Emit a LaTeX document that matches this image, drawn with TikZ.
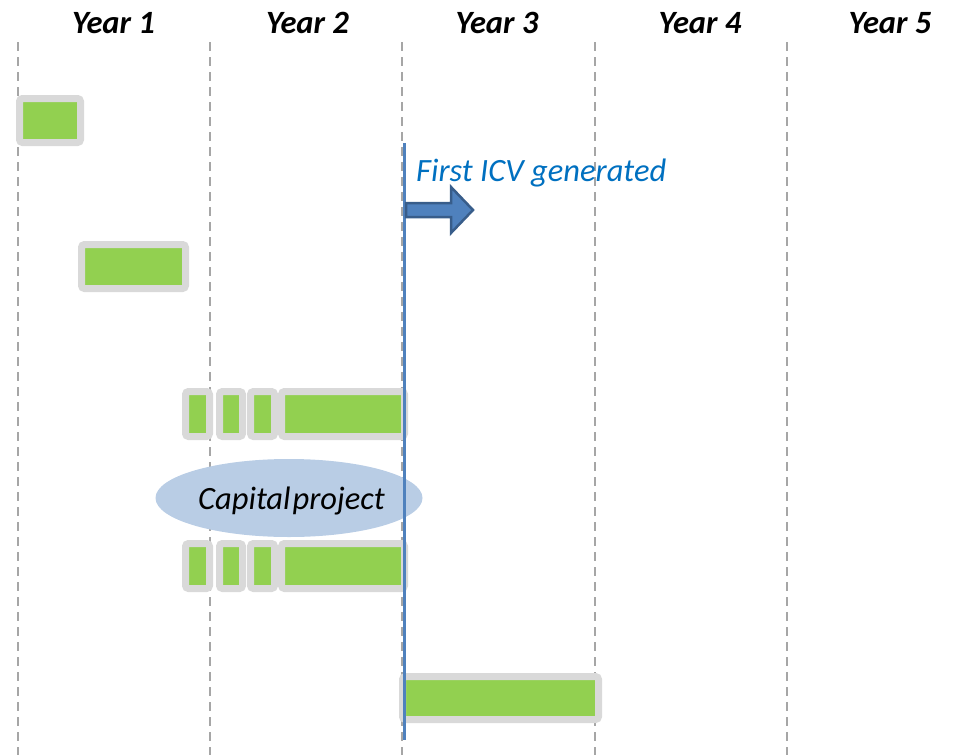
\documentclass[tikz,border=0pt]{standalone}
\usepackage{fontspec}
\setmainfont{Carlito}
\usetikzlibrary{shapes.geometric}
\definecolor{grn}{HTML}{92D050}
\definecolor{brd}{HTML}{D9D9D9}
\definecolor{dsh}{HTML}{A6A6A6}
\definecolor{bl}{HTML}{4F81BD}
\definecolor{dbl}{HTML}{385D8A}
\definecolor{ell}{HTML}{B9CDE5}
\definecolor{txtbl}{HTML}{0070C0}
\tikzset{
  bar/.style={rectangle, draw=brd, line width=7pt, fill=grn, rounded corners=3pt, inner sep=0pt},
  yearlbl/.style={font=\fontsize{32.5}{36}\selectfont\bfseries\itshape, inner sep=0pt, anchor=base},
  grid/.style={draw=dsh, line width=1.8pt, dash pattern=on 9pt off 6pt},
}
\begin{document}
\begin{tikzpicture}[x=1pt,y=-1pt]
\useasboundingbox (0,0) rectangle (970,755);
% year labels
\foreach \i/\xl/\xg in {1/113.5/18, 2/307.5/210, 3/497/402, 4/700/595, 5/890/787}{
  \node[yearlbl] (y\i) at (\xl,33) {Year \i};
  \coordinate (gt\i) at (\xg,42);
  \coordinate (gb\i) at (\xg,755);
  \draw[grid] (gt\i) -- (gb\i);
}
% bars
\node[bar, minimum width=61pt, minimum height=44pt] (b1) at (50,120.5) {};
\node[bar, minimum width=104pt, minimum height=44pt] (b2) at (133.5,266.5) {};
\foreach \r/\yy in {a/414, b/566}{
  \node[bar, minimum width=24pt, minimum height=45pt] (\r1) at (197.5,\yy) {};
  \node[bar, minimum width=23pt, minimum height=45pt] (\r2) at (231,\yy) {};
  \node[bar, minimum width=24pt, minimum height=45pt] (\r3) at (262.5,\yy) {};
  \node[bar, minimum width=123pt, minimum height=45pt] (\r4) at (343,\yy) {};
}
\node[bar, minimum width=196pt, minimum height=43pt] (b6) at (500.5,698) {};
% ellipse
\node[ellipse, fill=ell, minimum width=267pt, minimum height=78pt, inner sep=0pt] (cap) at (289,498) {};
\node[anchor=base west, inner sep=0pt, font=\fontsize{32.5}{36}\selectfont\itshape] (capt) at (198,509) {Capital\hspace{2pt}project};
% vertical line
\coordinate (lt) at (404,143);
\coordinate (lb) at (404,740);
\draw[bl, line width=3pt] (lt) -- (lb);
% label
\node[anchor=base west, inner sep=0pt, text=txtbl, font=\fontsize{32.5}{36}\selectfont\itshape] (icv) at (416,181) {First ICV generated};
% block arrow
\draw[dbl, fill=bl, line width=2.5pt, line join=miter]
  (406,203) -- (451,203) -- (451,187) -- (473,210) -- (451,233) -- (451,217) -- (406,217) -- cycle;
\end{tikzpicture}
\end{document}
